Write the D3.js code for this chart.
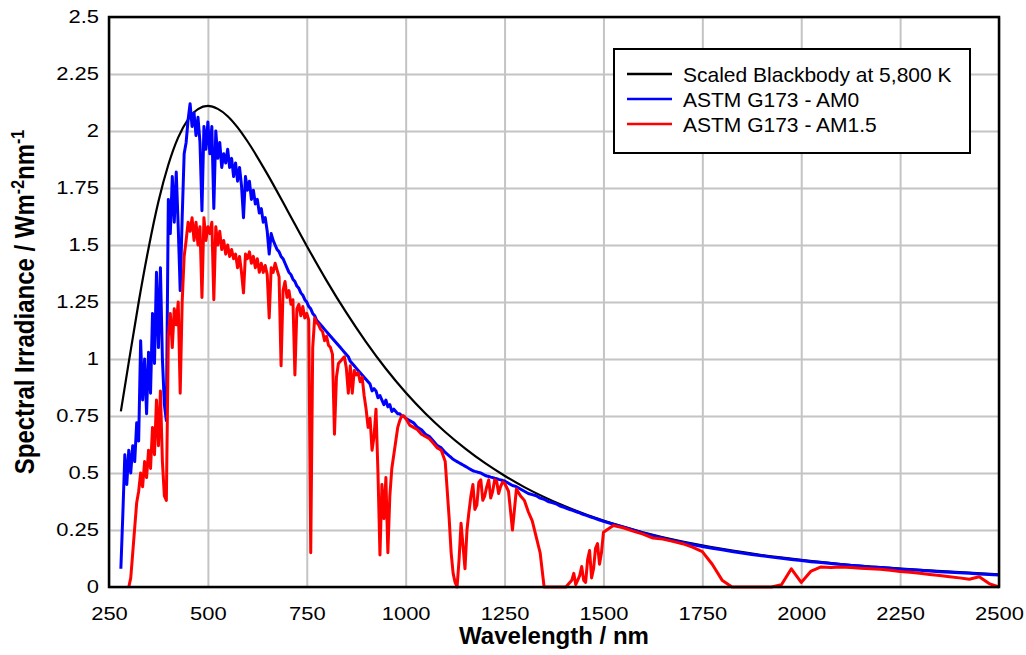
<!DOCTYPE html>
<html>
<head>
<meta charset="utf-8">
<script src="https://cdn.jsdelivr.net/npm/d3@7"></script>
<style>
body { margin: 0; background: #fff; }
text { font-family: "Liberation Sans", Arial, sans-serif; fill: #000; }
</style>
</head>
<body>
<div id="chart"></div>
<script>
// wavelength grid (nm) for the two ASTM spectra
const wavelengths = [
  280,285,290,295,300,305,310,315,320,325,330,335,340,345,350,355,360,365,370,375,
  380,385,390,395,400,405,410,415,420,425,430,435,440,445,450,455,460,465,470,475,
  480,485,490,495,500,505,510,515,520,525,530,535,540,545,550,555,560,565,570,575,
  580,585,590,595,600,605,610,615,620,625,630,635,640,645,650,655,660,665,670,675,
  680,685,690,695,700,705,710,715,720,725,730,735,740,745,750,755,760,765,770,775,
  780,785,790,795,800,805,810,815,820,825,830,835,840,845,850,855,860,865,870,875,
  880,885,890,895,900,905,910,915,920,925,930,935,940,945,950,955,960,965,970,975,
  980,985,990,995,1000,
  1010,1020,1030,1040,1050,1060,1070,1080,1090,1100,
  1110,1115,1120,1125,1130,1135,1140,1145,1150,1155,1160,1165,1170,1175,1180,1185,1190,1195,1200,
  1205,1210,1215,1220,1225,1230,1235,1240,1245,1250,1260,1270,1280,1290,1300,
  1310,1320,1330,1340,1350,1360,1370,1380,1390,1400,
  1405,1410,1415,1420,1425,1430,1435,1440,1445,1450,1455,1460,1465,1470,1475,1480,1485,1490,1495,1500,
  1525,1550,1575,1600,1625,1650,1675,1700,1725,1750,1775,1800,1825,1850,1875,1900,1925,1950,1975,2000,
  2025,2050,2075,2100,2125,2150,2175,2200,2225,2250,2275,2300,2325,2350,2375,2400,2425,2450,2475,2500
]

// ASTM G173 AM0 (blue)
const am0 = [
  0.08,0.32,0.58,0.45,0.60,0.50,0.62,0.55,0.72,0.64,1.08,0.82,1.00,0.76,1.03,0.85,1.20,0.98,1.38,1.05,
  1.40,1.00,0.80,0.73,1.70,1.55,1.80,1.60,1.82,1.58,1.30,1.62,1.90,1.95,2.05,2.12,2.02,2.08,1.98,2.06,
  1.95,1.65,2.02,1.92,2.04,1.90,2.02,1.66,2.00,1.88,1.95,1.84,1.90,1.86,1.92,1.84,1.88,1.80,1.86,1.78,
  1.84,1.76,1.62,1.80,1.74,1.78,1.70,1.74,1.68,1.70,1.64,1.66,1.60,1.62,1.56,1.46,1.55,1.52,1.50,1.48,
  1.47,1.45,1.44,1.42,1.40,1.38,1.37,1.35,1.34,1.32,1.31,1.29,1.28,1.26,1.25,1.23,1.22,1.20,1.19,1.17,
  1.16,1.15,1.14,1.13,1.12,1.11,1.10,1.09,1.08,1.07,1.06,1.05,1.04,1.03,1.02,1.01,0.99,0.98,0.97,0.96,
  0.95,0.94,0.93,0.92,0.91,0.90,0.89,0.86,0.87,0.86,0.83,0.84,0.82,0.80,0.82,0.79,0.80,0.77,0.78,0.77,
  0.76,0.76,0.75,0.75,0.74,
  0.73,0.72,0.70,0.69,0.67,0.66,0.64,0.62,0.61,0.59,
  0.575,0.568,0.56,0.555,0.55,0.545,0.54,0.535,0.53,0.525,0.52,0.515,0.51,0.507,0.505,0.502,0.50,0.495,0.49,
  0.487,0.485,0.482,0.48,0.477,0.475,0.472,0.47,0.467,0.465,0.455,0.445,0.44,0.43,0.42,
  0.41,0.405,0.40,0.39,0.385,0.375,0.37,0.365,0.355,0.35,
  0.346,0.343,0.340,0.337,0.334,0.331,0.328,0.325,0.321,0.318,0.315,0.312,0.309,0.306,0.303,0.300,0.297,0.294,0.291,0.288,
  0.275,0.263,0.250,0.236,0.225,0.214,0.204,0.195,0.186,0.178,0.170,0.163,0.156,0.149,0.143,0.137,0.131,0.126,0.121,0.116,
  0.111,0.107,0.103,0.099,0.095,0.092,0.088,0.085,0.082,0.078,0.076,0.073,0.070,0.067,0.065,0.062,0.060,0.057,0.055,0.053
]

// ASTM G173 AM1.5 (red)
const am15 = [
  null,null,null,null,0.00,0.04,0.15,0.26,0.37,0.42,0.50,0.44,0.55,0.48,0.60,0.52,0.70,0.58,0.82,0.62,
  0.86,0.55,0.40,0.38,1.10,1.20,1.05,1.22,1.15,1.25,0.85,1.25,1.45,1.52,1.60,1.56,1.62,1.52,1.60,1.50,
  1.58,1.27,1.62,1.52,1.58,1.55,1.60,1.26,1.58,1.50,1.56,1.48,1.52,1.46,1.50,1.45,1.48,1.44,1.46,1.40,
  1.45,1.38,1.29,1.46,1.44,1.47,1.42,1.45,1.40,1.44,1.38,1.42,1.38,1.41,1.37,1.18,1.40,1.38,1.42,1.39,
  1.36,0.97,1.30,1.34,1.27,1.30,1.24,1.26,0.93,1.22,1.24,1.19,1.23,1.18,1.20,1.17,0.15,1.05,1.18,1.16,
  1.15,1.13,1.12,1.08,1.10,1.06,1.05,1.02,0.67,0.92,0.98,0.99,1.00,1.01,0.96,0.85,0.97,0.85,0.95,0.93,
  0.94,0.90,0.92,0.84,0.78,0.70,0.74,0.60,0.66,0.78,0.50,0.14,0.45,0.30,0.48,0.15,0.40,0.52,0.58,0.64,
  0.70,0.73,0.75,0.75,0.74,
  0.71,0.70,0.69,0.67,0.66,0.65,0.63,0.61,0.60,0.55,
  0.30,0.15,0.06,0.02,0.00,0.12,0.28,0.18,0.08,0.25,0.33,0.40,0.45,0.34,0.36,0.46,0.47,0.38,0.40,
  0.44,0.47,0.39,0.42,0.47,0.465,0.41,0.44,0.46,0.455,0.42,0.25,0.43,0.40,0.38,
  0.33,0.29,0.22,0.15,0.00,0.00,0.00,0.00,0.00,0.00,
  0.00,0.01,0.02,0.03,0.06,0.01,0.03,0.05,0.09,0.03,0.02,0.12,0.16,0.04,0.08,0.17,0.19,0.10,0.15,0.24,
  0.27,0.26,0.245,0.232,0.215,0.21,0.20,0.19,0.175,0.155,0.10,0.03,0.00,0.00,0.00,0.00,0.00,0.01,0.08,0.02,
  0.07,0.088,0.085,0.088,0.085,0.082,0.08,0.078,0.073,0.068,0.065,0.06,0.055,0.05,0.045,0.04,0.034,0.045,0.015,0.00
]

// scaled blackbody at 5,800 K (black)
const bbWavelengths = [280,300,325,350,375,400,425,450,475,500,525,550,575,600,650,700,750,800,850,900,
  950,1000,1050,1100,1150,1200,1250,1300,1400,1500,1600,1700,1800,1900,2000,2100,2200,2300,2400,2500]
const blackbody = [0.770,0.986,1.249,1.486,1.691,1.852,1.972,2.051,2.096,2.110,2.097,2.065,2.016,1.955,1.812,1.655,1.496,1.344,1.203,1.074,
  0.957,0.853,0.761,0.680,0.608,0.544,0.488,0.438,0.356,0.291,0.240,0.199,0.167,0.140,0.119,0.101,0.087,0.075,0.065,0.056]

const xTicks = [250,500,750,1000,1250,1500,1750,2000,2250,2500]
const yTicks = [0,0.25,0.5,0.75,1,1.25,1.5,1.75,2,2.25,2.5]
const legendLabels = ["Scaled Blackbody at 5,800 K", "ASTM G173 - AM0", "ASTM G173 - AM1.5"]
const seriesColors = ["#000000", "#0000ff", "#ff0000"]

const width = 1026, height = 655
const margin = {top: 17, right: 27, bottom: 68, left: 109}
const innerW = width - margin.left - margin.right
const innerH = height - margin.top - margin.bottom
const stretch = 1.22 // tick labels are drawn wide in the original

const svg = d3.select("#chart").append("svg")
    .attr("width", width).attr("height", height)

const g = svg.append("g").attr("transform", `translate(${margin.left},${margin.top})`)

const x = d3.scaleLinear().domain([250, 2500]).range([0, innerW])
const y = d3.scaleLinear().domain([0, 2.5]).range([innerH, 0])

// grid
g.append("g")
    .call(d3.axisBottom(x).tickValues(xTicks).tickSize(innerH).tickFormat(""))
    .call(a => a.select(".domain").remove())
    .selectAll("line").attr("stroke", "#c4c4c4").attr("stroke-width", 2)
g.append("g")
    .call(d3.axisLeft(y).tickValues(yTicks).tickSize(-innerW).tickFormat(""))
    .call(a => a.select(".domain").remove())
    .selectAll("line").attr("stroke", "#c4c4c4").attr("stroke-width", 2)

// tick labels
const yAx = g.append("g")
    .call(d3.axisLeft(y).tickValues(yTicks).tickSize(0).tickPadding(10).tickFormat(d => String(d)))
yAx.select(".domain").remove()
yAx.selectAll("text")
    .attr("font-size", 18).attr("font-family", "Liberation Sans, Arial, sans-serif")
    .attr("x", -10 / stretch).attr("transform", `scale(${stretch},1)`)

const xAx = g.append("g").attr("transform", `translate(0,${innerH})`)
    .call(d3.axisBottom(x).tickValues(xTicks).tickSize(0).tickPadding(20).tickFormat(d => String(d)))
xAx.select(".domain").remove()
xAx.selectAll("text")
    .attr("font-size", 18).attr("font-family", "Liberation Sans, Arial, sans-serif")
    .attr("transform", `scale(${stretch},1)`)

// series
const line = d3.line()
    .defined(d => d[1] != null)
    .x(d => x(d[0]))
    .y(d => y(d[1]))

g.append("path")
    .datum(d3.zip(bbWavelengths, blackbody))
    .attr("fill", "none").attr("stroke", seriesColors[0]).attr("stroke-width", 2.2)
    .attr("d", line.curve(d3.curveMonotoneX))

line.curve(d3.curveLinear)
g.append("path")
    .datum(d3.zip(wavelengths, am0))
    .attr("fill", "none").attr("stroke", seriesColors[1]).attr("stroke-width", 3)
    .attr("stroke-linejoin", "round")
    .attr("d", line)

g.append("path")
    .datum(d3.zip(wavelengths, am15))
    .attr("fill", "none").attr("stroke", seriesColors[2]).attr("stroke-width", 3)
    .attr("stroke-linejoin", "round")
    .attr("d", line)

// frame
g.append("rect")
    .attr("width", innerW).attr("height", innerH)
    .attr("fill", "none").attr("stroke", "#000").attr("stroke-width", 2.5)

// axis titles
svg.append("text")
    .attr("x", margin.left + innerW / 2).attr("y", 644)
    .attr("text-anchor", "middle")
    .attr("font-size", 24).attr("font-weight", "bold")
    .text("Wavelength / nm")

const yTitle = svg.append("text")
    .attr("transform", `translate(34,${margin.top + innerH / 2}) rotate(-90) scale(1,1.15)`)
    .attr("text-anchor", "middle")
    .attr("font-size", 24).attr("font-weight", "bold")
yTitle.append("tspan").text("Spectral Irradiance / Wm")
yTitle.append("tspan").attr("font-size", 16).attr("dy", -9).text("-2")
yTitle.append("tspan").attr("dy", 9).text("nm")
yTitle.append("tspan").attr("font-size", 16).attr("dy", -9).text("-1")

// legend
const legend = svg.append("g").attr("transform", "translate(614,49)")
legend.append("rect")
    .attr("width", 356).attr("height", 104)
    .attr("fill", "#fff").attr("stroke", "#000").attr("stroke-width", 2)

const rows = legend.selectAll("g.row").data(legendLabels).enter()
    .append("g").attr("class", "row")
    .attr("transform", (d, i) => `translate(0,${25 + i * 25})`)
rows.append("line")
    .attr("x1", 13).attr("x2", 58)
    .attr("stroke", (d, i) => seriesColors[i]).attr("stroke-width", 2.5)
rows.append("text")
    .attr("x", 69).attr("y", 7.5)
    .attr("font-size", 21)
    .text(d => d)
</script>
</body>
</html>
